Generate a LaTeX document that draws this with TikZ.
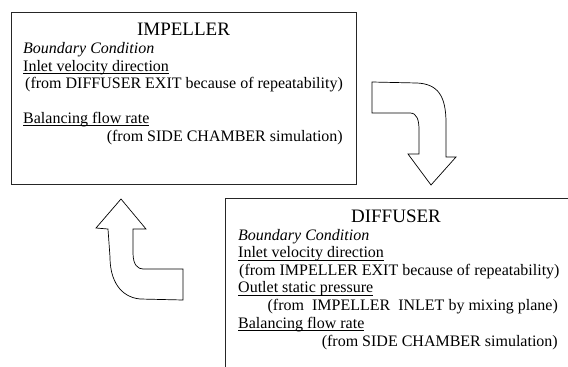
\documentclass[tikz,border=0pt]{standalone}
\usepackage{fontspec}
\setmainfont{Liberation Serif}
\usepackage{tikz}
\newcommand{\ulined}[1]{\setbox0\hbox{#1}\rlap{\rule[-2.9pt]{\wd0}{0.8pt}}\box0}
\tikzstyle{txt}   = [inner sep=0pt, anchor=base west, font=\fontsize{16}{18}\selectfont]
\tikzstyle{rtxt}  = [txt, anchor=base east]
\tikzstyle{head}  = [inner sep=0pt, anchor=base, font=\fontsize{19}{22}\selectfont]
\tikzstyle{box}   = [draw=black!85, line width=0.8pt]
\tikzstyle{turn}  = [draw=black, line width=0.7pt, fill=white, line join=miter]

\begin{document}
\begin{tikzpicture}[x=1pt,y=-1pt]
		\useasboundingbox (0,0) rectangle (568,367);

		% impeller box
		\draw[box] (11,12) rectangle (356,184);
		\node[head] (imp) at (183.5,35) {IMPELLER};
		\node[txt] (impbc) at (23,53) {\textit{Boundary Condition}};
		\node[txt] (impin) at (23,71) {\ulined{Inlet velocity direction}};
		\node[txt] (impinsrc) at (25,88) {(from DIFFUSER EXIT because of repeatability)};
		\node[txt] (impbal) at (23,123) {\ulined{Balancing flow rate}};
		\node[rtxt] (impbalsrc) at (343,141) {(from SIDE CHAMBER simulation)};

		% diffuser box
		\draw[box] (225,198) rectangle (580,380);
		\node[head] (dif) at (396,222) {DIFFUSER};
		\node[txt] (difbc) at (238,240) {\textit{Boundary Condition}};
		\node[txt] (difin) at (238,257.5) {\ulined{Inlet velocity direction}};
		\node[txt] (difinsrc) at (239,275) {(from IMPELLER EXIT because of repeatability)};
		\node[txt] (difout) at (238,292.5) {\ulined{Outlet static pressure}};
		\node[rtxt] (difoutsrc) at (558,310.5) {(from\ \ IMPELLER\ \ INLET by mixing plane)};
		\node[txt] (difbal) at (238,328) {\ulined{Balancing flow rate}};
		\node[rtxt] (difbalsrc) at (558,346) {(from SIDE CHAMBER simulation)};

		% bent arrows
		\draw[turn] (372,82) -- (372,113) -- (410,113) .. controls (417,113) and (419,120) .. (419,130)
			-- (419,154) -- (408,154) -- (431,185) -- (456,157) -- (446,157) -- (446,123)
			.. controls (446,96) and (438,84) .. (417,83) -- cycle;
		\draw[turn] (121,199) -- (146,229) -- (133,229) -- (133,253) .. controls (133,265) and (138,269) .. (143,269)
			-- (183,269) -- (183,300) -- (140,299) .. controls (120,297) and (110,280) .. (110,257)
			-- (108,229) -- (96,228) -- cycle;
	\end{tikzpicture}
\end{document}
